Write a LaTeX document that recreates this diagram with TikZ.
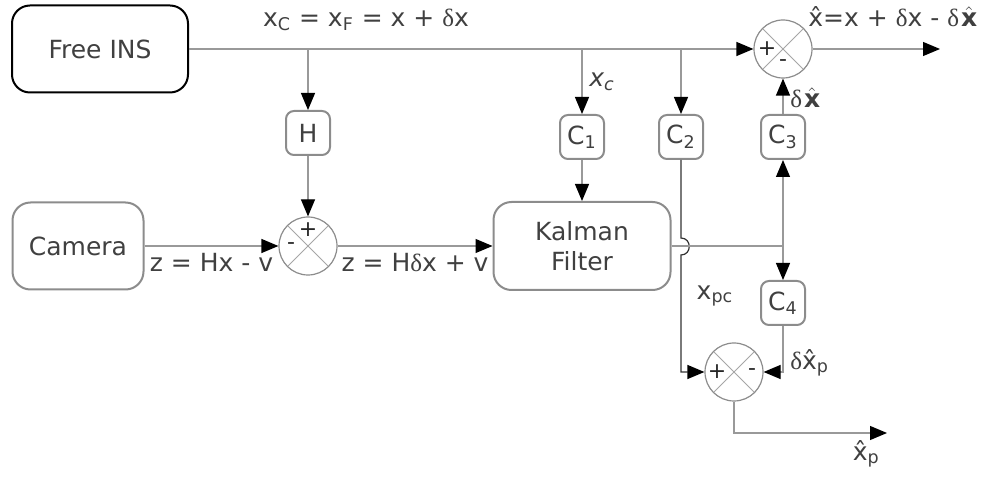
\documentclass[tikz,border=0pt]{standalone}
\usepackage{amsmath}
\usepackage{fontspec}
\setmainfont{DejaVu Sans}
\newfontfamily\grkfont{Liberation Serif}
\newcommand{\dlt}{{\grkfont δ}}
\usetikzlibrary{arrows.meta}

\begin{document}
\begin{tikzpicture}[x=0.5pt, y=-0.5pt,
    every node/.style={font=\fontsize{12.5}{15}\selectfont, text=black!75},
    line/.style={draw=gray!80, line width=0.6pt},
    >={Triangle[length=8.5pt, width=7pt, color=black]},
    unit/.style={draw=gray!90, line width=1pt, rounded corners=9pt, align=center},
    gain/.style={draw=gray!90, line width=1pt, rounded corners=4pt, minimum width=22pt, minimum height=22pt, inner sep=0pt},
    sum/.style={circle, draw=gray!90, line width=0.6pt, minimum size=29pt, inner sep=0pt,
        path picture={\draw[gray!70, line width=0.5pt] (path picture bounding box.north west) -- (path picture bounding box.south east) (path picture bounding box.north east) -- (path picture bounding box.south west);}},
    sign/.style={font=\fontsize{11}{13}\selectfont, text=black!85, inner sep=0pt}]
    \useasboundingbox (0, 0) rectangle (985, 480);
    \path (100, 49) node[unit, draw=black, minimum width=88pt, minimum height=43.5pt] (ins) {Free INS} (78, 246) node[unit, minimum width=65.5pt, minimum height=43.5pt] (cam) {Camera} (582, 246) node[unit, minimum width=88.5pt, minimum height=44pt] (kf) {Kalman\\Filter};
    \path (308, 133) node[gain] (H) {H} (582, 137) node[gain] (C1) {C$_\text{1}$} (681, 137) node[gain] (C2) {C$_\text{2}$} (783, 137) node[gain] (C3) {C$_\text{3}$} (783, 303) node[gain] (C4) {C$_\text{4}$};
    \path (783, 49) node[sum] (sumtop) {} (308, 246) node[sum] (sumcam) {} (734, 372) node[sum] (sumlow) {};
    \path (sumtop) ++(-16, 0) node[sign] {+} (sumtop) ++(0, 14) node[sign] {-} (sumcam) ++(0, -16) node[sign] {+} (sumcam) ++(-17, 0) node[sign] {-} (sumlow) ++(-17, 0) node[sign] {+} (sumlow) ++(18, 0) node[sign] {-};
    \path (308, 49) coordinate (jH) (582, 49) coordinate (jC1) (681, 49) coordinate (jC2) (783, 246) coordinate (jC34) (940, 49) coordinate (xout) (887, 433) coordinate (xpout) (681, 238) coordinate (hopa) (681, 255) coordinate (hopb);
    \path (366, 20) node (xcf) {x$_\text{C}$ = x$_\text{F}$ = x + \dlt x} (806, 17) node[anchor=west, inner sep=1pt] (xhat) {\^{x}=x + \dlt x - \dlt\kern1pt$\hat{\mathbf{x}}$} (715, 296) node (xpc) {x$_\text{pc}$};
    \draw[line, ->] (ins) -- (sumtop);
    \draw[line, ->] (sumtop) -- (xout);
    \draw[line, ->] (jH) -- (H);
    \draw[line, ->] (H) -- (sumcam);
    \draw[line, ->] (cam) -- node[below] {z = Hx - v} (sumcam);
    \draw[line, ->] (sumcam) -- node[below] {z = H\dlt x + v} (kf);
    \draw[line, ->] (jC1) -- node[right] {\itshape x$_\text{\itshape c}$} (C1);
    \draw[line, ->] (C1) -- (kf);
    \draw[line, ->] (jC2) -- (C2);
    \draw[line, draw=black!80, ->] (C2) -- (hopa) .. controls +(11, 0) and +(11, 0) .. (hopb) |- (sumlow);
    \draw[line] (kf) -- (jC34);
    \draw[line, ->] (jC34) -- (C3);
    \draw[line, ->] (jC34) -- (C4);
    \draw[line, ->] (C3) -- node[right, pos=0.45] {\dlt\kern1pt$\hat{\mathbf{x}}$} (sumtop);
    \draw[line, ->] (C4) |- node[pos=0.4, right] {\dlt\^{x}$_\text{p}$} (sumlow);
    \draw[line, ->] (sumlow) |- node[pos=1, below left] {\^{x}$_\text{p}$} (xpout);
    \end{tikzpicture}
\end{document}
